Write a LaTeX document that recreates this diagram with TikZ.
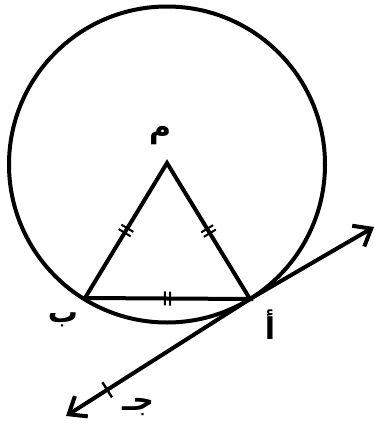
\documentclass[tikz,border=0pt]{standalone}
\usepackage{fontspec}
\newfontfamily\arabicfont[Script=Arabic]{DejaVu Sans}
\TeXXeTstate=1
\usetikzlibrary{arrows.meta,decorations.markings}
\begin{document}
\begin{tikzpicture}[x=1pt,y=-1pt,
  thickline/.style={line width=4pt},
  lbl/.style={font=\arabicfont\fontsize{30}{30}\selectfont\bfseries, inner sep=0pt},
  dbltick/.style={postaction={decorate,decoration={markings,
     mark=at position 0.5 with {\draw[-,line width=2pt] (-2.6pt,-7pt)--(-2.6pt,7pt) (2.6pt,-7pt)--(2.6pt,7pt);}}}},
  sgltick/.style={postaction={decorate,decoration={markings,
     mark=at position #1 with {\draw[-,line width=2.4pt] (0,-9pt)--(0,9pt);}}}},
  arr/.style={thickline,{Straight Barb[length=15pt,width=24pt,line width=4pt]}-{Straight Barb[length=15pt,width=24pt,line width=4pt]}}
]
\useasboundingbox (0,0) rectangle (377,434);
\coordinate (M) at (167,163);
\coordinate (B) at (85,298);
\coordinate (A) at (250,299);
\coordinate (C) at (66,416);
\coordinate (D) at (374,227);
\draw[thickline] (167,164.5) circle[radius=158];
\draw[thickline,line join=miter] (M) -- (B) -- (A) -- cycle;
\path[dbltick] (M) -- (B);
\path[dbltick] (M) -- (A);
\path[dbltick] (B) -- (A);
\draw[arr,sgltick=0.135] (C) -- (A) -- (D);
\node[lbl] (lm) at (160,136) {\beginR م\endR};
\node[lbl] (lb) at (63,320) {\beginR ب\endR};
\node[lbl] (la) at (270,325) {\beginR أ\endR};
\node[lbl] (lc) at (138,407) {\beginR جـ\endR};
\end{tikzpicture}
\end{document}
